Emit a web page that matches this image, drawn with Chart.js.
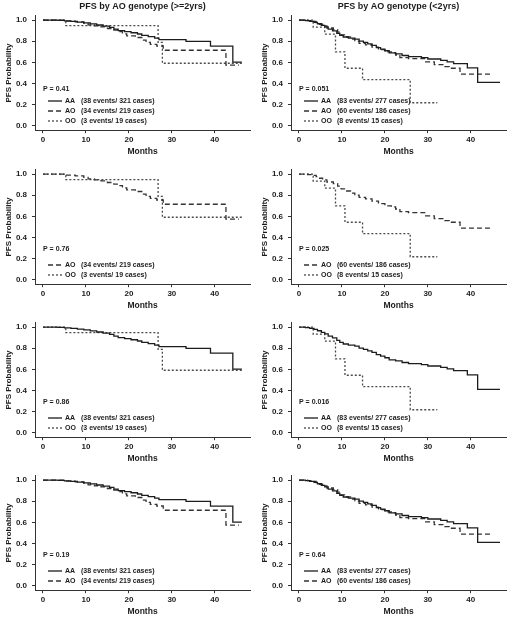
<!DOCTYPE html>
<html>
<head>
<meta charset="utf-8">
<script src="https://cdn.jsdelivr.net/npm/chart.js@4"></script>
<style>
  body { margin: 0; background: #fff; }
  #wrap { position: relative; width: 512px; height: 617px; }
  #wrap canvas { position: absolute; }
</style>
</head>
<body>
<div id="wrap"></div>
<script>
// axis ticks
const xTicks = [0, 10, 20, 30, 40];
const yTicks = [0, 0.2, 0.4, 0.6, 0.8, 1.0];

// PFS steps: months / survival probability
// patients >= 2 yrs
const aaOldT = [0, 3.5, 5, 6.5, 8, 9.5, 11, 12.5, 14, 15.5, 16.5, 17.5, 19, 20.5, 22, 23, 24.5, 26, 27, 33.3, 39, 44.2, 46.3];
const aaOldS = [1, 0.997, 0.993, 0.987, 0.98, 0.973, 0.963, 0.953, 0.943, 0.93, 0.915, 0.9, 0.89, 0.88, 0.868, 0.855, 0.843, 0.83, 0.815, 0.798, 0.753, 0.603, 0.603];
const aoOldT = [0, 5.3, 7.5, 9.5, 10.5, 12, 13.5, 15, 16.5, 17.5, 18.5, 19.5, 21.5, 23, 24, 25, 26.5, 28, 42.6, 45.6];
const aoOldS = [1, 0.99, 0.982, 0.968, 0.955, 0.945, 0.935, 0.92, 0.905, 0.89, 0.87, 0.85, 0.835, 0.81, 0.79, 0.77, 0.755, 0.715, 0.575, 0.575];
const ooOldT = [0, 5.3, 26.8, 27.8, 46.3];
const ooOldS = [1, 0.947, 0.79, 0.592, 0.592];

// patients < 2 yrs
const aaYoungT = [0, 1.5, 2.5, 3.5, 4.3, 5.2, 6, 6.8, 7.8, 8.8, 9.5, 10.3, 11.5, 13, 14, 15, 16, 17, 18, 19, 20, 21, 22.5, 24, 25.5, 28.5, 30, 33, 34.5, 36, 39.2, 41.6, 46.8];
const aaYoungS = [1, 0.995, 0.988, 0.978, 0.965, 0.95, 0.935, 0.915, 0.898, 0.875, 0.855, 0.84, 0.83, 0.82, 0.8, 0.79, 0.775, 0.76, 0.74, 0.725, 0.71, 0.69, 0.68, 0.665, 0.655, 0.645, 0.632, 0.62, 0.605, 0.588, 0.548, 0.412, 0.412];
const aoYoungT = [0, 2, 3, 4, 4.8, 5.5, 6.5, 8, 9, 9.8, 10.8, 12, 13, 14, 15.5, 17, 18.5, 20, 21.5, 22.5, 23.5, 25.5, 29.5, 31.5, 34, 35, 37.5, 44.5];
const aoYoungS = [1, 0.995, 0.988, 0.975, 0.96, 0.945, 0.925, 0.91, 0.885, 0.86, 0.84, 0.82, 0.8, 0.78, 0.765, 0.745, 0.72, 0.7, 0.69, 0.67, 0.645, 0.635, 0.605, 0.58, 0.56, 0.545, 0.49, 0.49];
const ooYoungT = [0, 3.3, 6, 8.5, 10.7, 14.8, 25.9, 32.2];
const ooYoungS = [1, 0.933, 0.867, 0.7, 0.545, 0.437, 0.219, 0.219];

// legend counts
const oldCounts = { AA: '(38 events/ 321 cases)', AO: '(34 events/ 219 cases)', OO: '(3 events/ 19 cases)' };
const youngCounts = { AA: '(83 events/ 277 cases)', AO: '(60 events/ 186 cases)', OO: '(8 events/ 15 cases)' };

const titles = ['PFS by AO genotype (>=2yrs)', 'PFS by AO genotype (<2yrs)'];
const pOld = ['P = 0.41', 'P = 0.76', 'P = 0.86', 'P = 0.19'];
const pYoung = ['P = 0.051', 'P = 0.025', 'P = 0.016', 'P = 0.64'];
const rowGroups = [['AA', 'AO', 'OO'], ['AO', 'OO'], ['AA', 'OO'], ['AA', 'AO']];

const FONT = '"Liberation Sans", Arial, sans-serif';
const styles = {
  AA: { color: '#1c1c1c', dash: [] },
  AO: { color: '#333', dash: [5, 3] },
  OO: { color: '#4a4a4a', dash: [2, 2] }
};

function steps(t, s) {
  return t.map((v, i) => ({ x: v, y: s[i] }));
}

const curves = {
  old: { AA: steps(aaOldT, aaOldS), AO: steps(aoOldT, aoOldS), OO: steps(ooOldT, ooOldS) },
  young: { AA: steps(aaYoungT, aaYoungS), AO: steps(aoYoungT, aoYoungS), OO: steps(ooYoungT, ooYoungS) }
};

// title, p-value and legend inside the plot
const notes = {
  id: 'notes',
  afterDraw(chart, args, opts) {
    const ctx = chart.ctx;
    const a = chart.chartArea;
    ctx.save();
    ctx.fillStyle = '#1c1c1c';
    ctx.textBaseline = 'middle';
    if (opts.title) {
      ctx.font = 'bold 9px ' + FONT;
      ctx.textAlign = 'center';
      ctx.fillText(opts.title, (a.left + a.right) / 2, 7);
    }
    ctx.textAlign = 'left';
    ctx.font = 'bold 7px ' + FONT;
    const three = opts.rows.length === 3;
    ctx.fillText(opts.p, 43, three ? 89 : 95);
    const ys = three ? [101, 111, 121] : [111, 121];
    opts.rows.forEach((key, i) => {
      const st = styles[key];
      ctx.strokeStyle = st.color;
      ctx.lineWidth = 1.3;
      ctx.setLineDash(st.dash);
      ctx.beginPath();
      ctx.moveTo(48, ys[i]);
      ctx.lineTo(62, ys[i]);
      ctx.stroke();
      ctx.setLineDash([]);
      ctx.fillText(key, 65, ys[i]);
      ctx.fillText(opts.counts[key], 81, ys[i]);
    });
    ctx.restore();
  }
};

const wrap = document.getElementById('wrap');
const rowTops = [0, 154, 307, 460];

rowTops.forEach((top, r) => {
  ['old', 'young'].forEach((grp, c) => {
    const cv = document.createElement('canvas');
    cv.width = 256;
    cv.height = 157;
    cv.style.left = (c * 256) + 'px';
    cv.style.top = top + 'px';
    wrap.appendChild(cv);

    const keys = rowGroups[r];
    new Chart(cv, {
      type: 'line',
      data: {
        datasets: keys.map(k => ({
          label: k,
          data: curves[grp][k],
          stepped: 'before',
          borderColor: styles[k].color,
          borderDash: styles[k].dash,
          borderWidth: 1.3,
          pointRadius: 0,
          fill: false
        }))
      },
      options: {
        responsive: false,
        animation: false,
        devicePixelRatio: 1,
        layout: { padding: { top: 15.8, left: 0, right: 6, bottom: 0 } },
        plugins: {
          legend: { display: false },
          tooltip: { enabled: false },
          notes: {
            title: r === 0 ? titles[c] : null,
            p: c === 0 ? pOld[r] : pYoung[r],
            rows: keys,
            counts: c === 0 ? oldCounts : youngCounts
          }
        },
        scales: {
          x: {
            type: 'linear',
            min: -1.86,
            max: 48.2,
            afterBuildTicks: s => { s.ticks = xTicks.map(v => ({ value: v })); },
            afterFit: s => { s.height = 26.8; },
            grid: { drawOnChartArea: false, drawTicks: true, tickLength: 3, color: '#333' },
            border: { display: true, color: '#333', width: 1 },
            ticks: { color: '#1c1c1c', padding: 2, maxRotation: 0, font: { family: FONT, size: 8, weight: 'bold' } },
            title: { display: true, text: 'Months', color: '#1c1c1c', padding: 0, font: { family: FONT, size: 8.5, weight: 'bold' } }
          },
          y: {
            min: -0.04,
            max: 1.04,
            afterBuildTicks: s => { s.ticks = yTicks.map(v => ({ value: v })); },
            afterFit: s => { s.width = 35; },
            grid: { drawOnChartArea: false, drawTicks: true, tickLength: 3, color: '#333' },
            border: { display: true, color: '#333', width: 1 },
            ticks: { color: '#1c1c1c', padding: 5, font: { family: FONT, size: 8, weight: 'bold' }, callback: v => v.toFixed(1) },
            title: { display: true, text: 'PFS Probability', color: '#1c1c1c', padding: { top: 3.5, bottom: 0 }, font: { family: FONT, size: 8, weight: 'bold' } }
          }
        }
      },
      plugins: [notes]
    });
  });
});
</script>
</body>
</html>
